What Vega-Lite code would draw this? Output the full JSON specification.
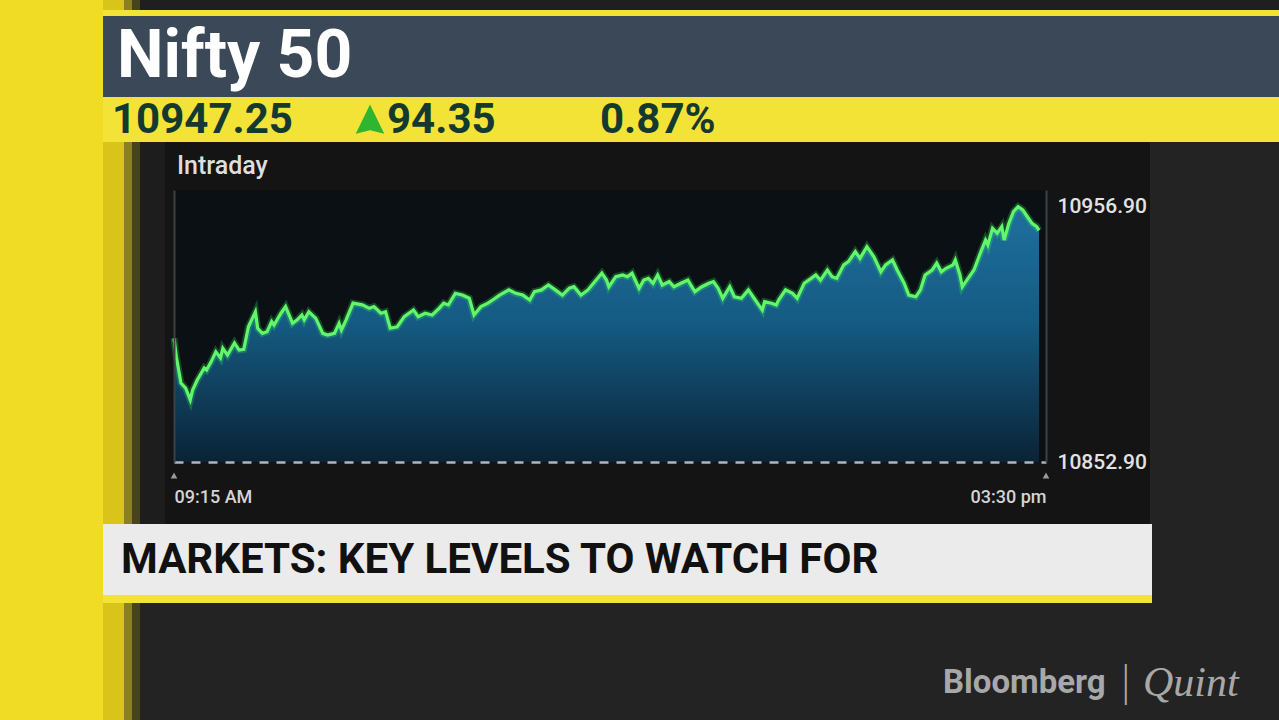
{
  "$schema": "https://vega.github.io/schema/vega-lite/v6.json",
  "background": "#141414",
  "padding": 0,
  "spacing": 0,
  "config": {
    "view": {"stroke": null},
    "concat": {"spacing": 0},
    "font": "Roboto"
  },
  "vconcat": [
    {"hconcat": [
      {"width": 103, "height": 10, "view": {"fill": "#f0dc24"}, "data": {"values": []}, "mark": "rect"},
      {"width": 21, "height": 10, "view": {"fill": "#d9c51a"}, "data": {"values": []}, "mark": "rect"},
      {"width": 8, "height": 10, "view": {"fill": "#8a8021"}, "data": {"values": []}, "mark": "rect"},
      {"width": 8, "height": 10, "view": {"fill": "#46431f"}, "data": {"values": []}, "mark": "rect"},
      {"width": 1139, "height": 10, "view": {"fill": "#1f1f1f"}, "data": {"values": []}, "mark": "rect"}
    ], "spacing": 0, "bounds": "flush"},
    {"hconcat": [
      {"width": 103, "height": 6, "view": {"fill": "#f0dc24"}, "data": {"values": []}, "mark": "rect"},
      {"width": 1176, "height": 6, "view": {"fill": "#f3e337"}, "data": {"values": []}, "mark": "rect"}
    ], "spacing": 0, "bounds": "flush"},
    {"hconcat": [
      {"width": 103, "height": 81, "view": {"fill": "#f0dc24"}, "data": {"values": []}, "mark": "rect"},
      {"width": 14, "height": 81, "view": {"fill": "#3a4858"}, "data": {"values": []}, "mark": "rect"},
      {"width": 1162, "height": 81, "view": {"fill": "#3a4858"},
        "data": {"values": [{"label": "Nifty 50"}]},
        "mark": {"type": "text", "align": "left", "baseline": "middle", "font": "Roboto", "fontSize": 66, "fontWeight": "bold", "color": "#ffffff"},
        "encoding": {
          "x": {"field": "label", "type": "nominal", "axis": null, "scale": {"type": "band", "paddingInner": 0, "paddingOuter": 0}, "bandPosition": 0},
          "text": {"field": "label"}
        }}
    ], "spacing": 0, "bounds": "flush"},
    {"hconcat": [
      {"width": 103, "height": 45, "view": {"fill": "#f0dc24"}, "data": {"values": []}, "mark": "rect"},
      {"width": 9, "height": 45, "view": {"fill": "#f3e337"}, "data": {"values": []}, "mark": "rect"},
      {"width": 241, "height": 45, "view": {"fill": "#f3e337"},
        "data": {"values": [{"label": "10947.25"}]},
        "mark": {"type": "text", "align": "left", "baseline": "middle", "font": "Roboto", "fontSize": 42, "fontWeight": "bold", "color": "#143a30"},
        "encoding": {
          "x": {"field": "label", "type": "nominal", "axis": null, "scale": {"type": "band", "paddingInner": 0, "paddingOuter": 0}, "bandPosition": 0},
          "text": {"field": "label"}
        }},
      {"width": 34, "height": 45, "view": {"fill": "#f3e337"},
        "data": {"values": [{"dir": "up"}]},
        "mark": {"type": "point", "filled": true, "shape": "M0,-1L0.95,0.95L0,0.72L-0.95,0.95Z", "size": 900, "color": "#2fb52f", "opacity": 1}},
      {"width": 213, "height": 45, "view": {"fill": "#f3e337"},
        "data": {"values": [{"label": "94.35"}]},
        "mark": {"type": "text", "align": "left", "baseline": "middle", "font": "Roboto", "fontSize": 42, "fontWeight": "bold", "color": "#143a30"},
        "encoding": {
          "x": {"field": "label", "type": "nominal", "axis": null, "scale": {"type": "band", "paddingInner": 0, "paddingOuter": 0}, "bandPosition": 0},
          "text": {"field": "label"}
        }},
      {"width": 679, "height": 45, "view": {"fill": "#f3e337"},
        "data": {"values": [{"label": "0.87%"}]},
        "mark": {"type": "text", "align": "left", "baseline": "middle", "font": "Roboto", "fontSize": 42, "fontWeight": "bold", "color": "#143a30"},
        "encoding": {
          "x": {"field": "label", "type": "nominal", "axis": null, "scale": {"type": "band", "paddingInner": 0, "paddingOuter": 0}, "bandPosition": 0},
          "text": {"field": "label"}
        }}
    ], "spacing": 0, "bounds": "flush"},
    {"hconcat": [
      {"width": 103, "height": 48, "view": {"fill": "#f0dc24"}, "data": {"values": []}, "mark": "rect"},
      {"width": 21, "height": 48, "view": {"fill": "#d9c51a"}, "data": {"values": []}, "mark": "rect"},
      {"width": 8, "height": 48, "view": {"fill": "#8a8021"}, "data": {"values": []}, "mark": "rect"},
      {"width": 8, "height": 48, "view": {"fill": "#46431f"}, "data": {"values": []}, "mark": "rect"},
      {"width": 25, "height": 48, "view": {"fill": "#1d1d1d"}, "data": {"values": []}, "mark": "rect"},
      {"width": 12, "height": 48, "data": {"values": []}, "mark": "rect"},
      {"width": 973, "height": 48,
        "data": {"values": [{"label": "Intraday"}]},
        "mark": {"type": "text", "align": "left", "baseline": "middle", "font": "Roboto", "fontSize": 25, "fontWeight": 500, "color": "#dedede"},
        "encoding": {
          "x": {"field": "label", "type": "nominal", "axis": null, "scale": {"type": "band", "paddingInner": 0, "paddingOuter": 0}, "bandPosition": 0},
          "text": {"field": "label"}
        }},
      {"width": 129, "height": 48, "view": {"fill": "#232323"}, "data": {"values": []}, "mark": "rect"}
    ], "spacing": 0, "bounds": "flush"},
    {"hconcat": [
      {"width": 103, "height": 334, "view": {"fill": "#f0dc24"}, "data": {"values": []}, "mark": "rect"},
      {"width": 21, "height": 334, "view": {"fill": "#d9c51a"}, "data": {"values": []}, "mark": "rect"},
      {"width": 8, "height": 334, "view": {"fill": "#8a8021"}, "data": {"values": []}, "mark": "rect"},
      {"width": 8, "height": 334, "view": {"fill": "#46431f"}, "data": {"values": []}, "mark": "rect"},
      {"width": 25, "height": 334, "view": {"fill": "#1d1d1d"}, "data": {"values": []}, "mark": "rect"},
      {"width": 9, "height": 334, "data": {"values": []}, "mark": "rect"},
      {
        "width": 872,
        "height": 272,
        "view": {"fill": "#0b1014"},
        "data": {
          "format": {"parse": {"t": "date:'%H:%M'"}},
          "values": [
            {"t": "09:15", "v": 10903.3}, {"t": "09:16", "v": 10895.8}, {"t": "09:18", "v": 10885.1},
            {"t": "09:20", "v": 10883.0}, {"t": "09:22", "v": 10878.2}, {"t": "09:23", "v": 10882.2},
            {"t": "09:25", "v": 10886.3}, {"t": "09:28", "v": 10891.2}, {"t": "09:29", "v": 10890.4},
            {"t": "09:31", "v": 10893.8}, {"t": "09:33", "v": 10897.8}, {"t": "09:35", "v": 10895.3},
            {"t": "09:36", "v": 10899.2}, {"t": "09:38", "v": 10896.5}, {"t": "09:41", "v": 10901.4},
            {"t": "09:43", "v": 10898.5}, {"t": "09:45", "v": 10898.8}, {"t": "09:47", "v": 10908.0},
            {"t": "09:50", "v": 10914.1}, {"t": "09:51", "v": 10907.4}, {"t": "09:53", "v": 10905.3},
            {"t": "09:55", "v": 10906.0}, {"t": "09:57", "v": 10910.1}, {"t": "09:58", "v": 10908.7},
            {"t": "10:01", "v": 10913.5}, {"t": "10:03", "v": 10916.2}, {"t": "10:06", "v": 10909.4},
            {"t": "10:08", "v": 10910.8}, {"t": "10:10", "v": 10912.8}, {"t": "10:11", "v": 10910.8},
            {"t": "10:13", "v": 10914.1}, {"t": "10:16", "v": 10911.4}, {"t": "10:19", "v": 10905.3},
            {"t": "10:21", "v": 10904.6}, {"t": "10:24", "v": 10905.3}, {"t": "10:26", "v": 10909.4},
            {"t": "10:27", "v": 10906.7}, {"t": "10:29", "v": 10910.8}, {"t": "10:32", "v": 10917.6},
            {"t": "10:36", "v": 10916.9}, {"t": "10:39", "v": 10915.5}, {"t": "10:41", "v": 10916.2},
            {"t": "10:44", "v": 10913.5}, {"t": "10:46", "v": 10914.1}, {"t": "10:48", "v": 10907.4},
            {"t": "10:51", "v": 10908.0}, {"t": "10:54", "v": 10912.1}, {"t": "10:58", "v": 10914.8},
            {"t": "11:00", "v": 10912.1}, {"t": "11:03", "v": 10913.5}, {"t": "11:06", "v": 10912.8},
            {"t": "11:09", "v": 10915.5}, {"t": "11:11", "v": 10917.6}, {"t": "11:13", "v": 10916.9},
            {"t": "11:16", "v": 10921.6}, {"t": "11:19", "v": 10920.9}, {"t": "11:22", "v": 10919.6},
            {"t": "11:24", "v": 10912.8}, {"t": "11:27", "v": 10916.2}, {"t": "11:30", "v": 10917.6},
            {"t": "11:32", "v": 10918.9}, {"t": "11:35", "v": 10920.9}, {"t": "11:39", "v": 10923.0},
            {"t": "11:42", "v": 10921.6}, {"t": "11:45", "v": 10920.9}, {"t": "11:48", "v": 10918.9},
            {"t": "11:50", "v": 10922.3}, {"t": "11:53", "v": 10923.0}, {"t": "11:56", "v": 10925.0},
            {"t": "11:59", "v": 10923.0}, {"t": "12:02", "v": 10920.9}, {"t": "12:05", "v": 10923.7},
            {"t": "12:07", "v": 10924.3}, {"t": "12:10", "v": 10920.9}, {"t": "12:13", "v": 10923.0},
            {"t": "12:16", "v": 10926.4}, {"t": "12:19", "v": 10929.8}, {"t": "12:21", "v": 10927.0},
            {"t": "12:22", "v": 10924.3}, {"t": "12:25", "v": 10928.4}, {"t": "12:28", "v": 10929.1},
            {"t": "12:30", "v": 10928.4}, {"t": "12:32", "v": 10929.8}, {"t": "12:35", "v": 10923.7},
            {"t": "12:37", "v": 10927.0}, {"t": "12:39", "v": 10927.7}, {"t": "12:41", "v": 10925.7},
            {"t": "12:43", "v": 10929.1}, {"t": "12:45", "v": 10925.0}, {"t": "12:48", "v": 10926.4},
            {"t": "12:50", "v": 10924.3}, {"t": "12:53", "v": 10925.7}, {"t": "12:56", "v": 10927.0},
            {"t": "12:59", "v": 10922.3}, {"t": "13:02", "v": 10924.3}, {"t": "13:05", "v": 10925.7},
            {"t": "13:07", "v": 10926.4}, {"t": "13:09", "v": 10923.7}, {"t": "13:11", "v": 10919.6},
            {"t": "13:14", "v": 10924.3}, {"t": "13:16", "v": 10920.2}, {"t": "13:19", "v": 10919.6},
            {"t": "13:22", "v": 10923.0}, {"t": "13:25", "v": 10918.9}, {"t": "13:28", "v": 10914.8},
            {"t": "13:29", "v": 10918.2}, {"t": "13:32", "v": 10917.6}, {"t": "13:34", "v": 10916.9},
            {"t": "13:35", "v": 10918.9}, {"t": "13:38", "v": 10923.0}, {"t": "13:41", "v": 10921.6},
            {"t": "13:43", "v": 10919.6}, {"t": "13:46", "v": 10925.7}, {"t": "13:49", "v": 10927.7},
            {"t": "13:51", "v": 10929.1}, {"t": "13:53", "v": 10927.0}, {"t": "13:56", "v": 10931.1},
            {"t": "13:58", "v": 10928.4}, {"t": "14:00", "v": 10927.7}, {"t": "14:03", "v": 10933.2},
            {"t": "14:05", "v": 10934.5}, {"t": "14:08", "v": 10938.6}, {"t": "14:10", "v": 10935.9},
            {"t": "14:13", "v": 10940.6}, {"t": "14:16", "v": 10936.5}, {"t": "14:19", "v": 10930.4},
            {"t": "14:21", "v": 10933.2}, {"t": "14:24", "v": 10935.2}, {"t": "14:26", "v": 10931.1},
            {"t": "14:29", "v": 10925.7}, {"t": "14:31", "v": 10920.9}, {"t": "14:34", "v": 10920.2},
            {"t": "14:36", "v": 10923.0}, {"t": "14:38", "v": 10929.1}, {"t": "14:41", "v": 10931.1},
            {"t": "14:43", "v": 10933.9}, {"t": "14:45", "v": 10930.4}, {"t": "14:47", "v": 10931.8},
            {"t": "14:50", "v": 10933.2}, {"t": "14:51", "v": 10935.2}, {"t": "14:53", "v": 10929.1},
            {"t": "14:54", "v": 10924.3}, {"t": "14:57", "v": 10928.4}, {"t": "14:59", "v": 10931.1},
            {"t": "15:02", "v": 10938.6}, {"t": "15:04", "v": 10943.3}, {"t": "15:05", "v": 10941.3},
            {"t": "15:07", "v": 10948.1}, {"t": "15:09", "v": 10946.1}, {"t": "15:11", "v": 10948.8},
            {"t": "15:12", "v": 10943.3}, {"t": "15:14", "v": 10950.1}, {"t": "15:16", "v": 10954.9},
            {"t": "15:18", "v": 10956.9}, {"t": "15:20", "v": 10955.6}, {"t": "15:22", "v": 10952.8},
            {"t": "15:24", "v": 10950.1}, {"t": "15:26", "v": 10948.8}, {"t": "15:27", "v": 10947.25}
          ]
        },
        "encoding": {
          "x": {
            "field": "t",
            "type": "temporal",
            "scale": {"domain": [
              {"year": 1900, "month": 1, "date": 1, "hours": 9, "minutes": 15},
              {"year": 1900, "month": 1, "date": 1, "hours": 15, "minutes": 30}
            ]},
            "axis": {
              "title": null,
              "grid": false,
              "ticks": false,
              "values": [
                {"year": 1900, "month": 1, "date": 1, "hours": 9, "minutes": 15},
                {"year": 1900, "month": 1, "date": 1, "hours": 15, "minutes": 30}
              ],
              "labelExpr": "hours(datum.value) < 12 ? timeFormat(datum.value, '%I:%M %p') : lower(timeFormat(datum.value, '%I:%M %p'))",
              "labelFlush": true,
              "labelFont": "Roboto",
              "labelFontSize": 18,
              "labelFontWeight": 500,
              "labelColor": "#d4d4d4",
              "labelPadding": 26,
              "domainColor": "#aeb6ba",
              "domainWidth": 2.5,
              "domainDash": [9, 8],
              "zindex": 1
            }
          }
        },
        "layer": [
          {
            "mark": {
              "type": "area",
              "fill": {
                "gradient": "linear",
                "x1": 0, "y1": 0, "x2": 0, "y2": 1,
                "stops": [
                  {"offset": 0, "color": "#1e6f9e"},
                  {"offset": 0.45, "color": "#155b83"},
                  {"offset": 1, "color": "#0a2336"}
                ]
              }
            },
            "encoding": {
              "y": {
                "field": "v",
                "type": "quantitative",
                "scale": {"domain": [10852.9, 10963.7], "zero": false, "nice": false},
                "axis": {"orient": "left", "labels": false, "ticks": false, "grid": false, "title": null, "domainColor": "#3a4147", "domainWidth": 2, "zindex": 1}
              },
              "y2": {"datum": 10852.9}
            }
          },
          {
            "mark": {"type": "line", "color": "#3df05a", "strokeWidth": 7, "opacity": 0.25},
            "encoding": {
              "y": {
                "field": "v",
                "type": "quantitative",
                "scale": {"domain": [10852.9, 10963.7], "zero": false, "nice": false},
                "axis": {
                  "orient": "right",
                  "title": null,
                  "grid": false,
                  "ticks": false,
                  "values": [10852.9, 10956.9],
                  "format": ".2f",
                  "labelFont": "Roboto",
                  "labelFontSize": 21,
                  "labelFontWeight": 500,
                  "labelColor": "#e2e2e2",
                  "labelPadding": 11,
                  "domainColor": "#3a4147",
                  "domainWidth": 2,
                  "zindex": 1
                }
              }
            }
          },
          {
            "mark": {"type": "line", "color": "#62f76a", "strokeWidth": 3.2},
            "encoding": {
              "y": {
                "field": "v",
                "type": "quantitative",
                "scale": {"domain": [10852.9, 10963.7], "zero": false, "nice": false},
                "axis": null
              }
            }
          },
          {
            "data": {
              "format": {"parse": {"t": "date:'%H:%M'"}},
              "values": [{"t": "09:15"}, {"t": "15:30"}]
            },
            "mark": {"type": "point", "filled": true, "shape": "triangle-up", "size": 45, "color": "#9a9a9a", "opacity": 1},
            "encoding": {
              "y": {
                "datum": 10847.4,
                "type": "quantitative",
                "scale": {"domain": [10852.9, 10963.7], "zero": false, "nice": false},
                "axis": null
              }
            }
          }
        ],
        "resolve": {"axis": {"y": "independent"}}
      },
      {"width": 104, "height": 334, "data": {"values": []}, "mark": "rect"},
      {"width": 129, "height": 334, "view": {"fill": "#232323"}, "data": {"values": []}, "mark": "rect"}
    ], "spacing": 0, "bounds": "flush"},
    {"hconcat": [
      {"width": 103, "height": 71, "view": {"fill": "#f0dc24"}, "data": {"values": []}, "mark": "rect"},
      {"width": 18, "height": 71, "view": {"fill": "#ebebeb"}, "data": {"values": []}, "mark": "rect"},
      {"width": 1031, "height": 71, "view": {"fill": "#ebebeb"},
        "data": {"values": [{"label": "MARKETS: KEY LEVELS TO WATCH FOR"}]},
        "mark": {"type": "text", "align": "left", "baseline": "middle", "font": "Roboto", "fontSize": 42, "fontWeight": "bold", "color": "#111111"},
        "encoding": {
          "x": {"field": "label", "type": "nominal", "axis": null, "scale": {"type": "band", "paddingInner": 0, "paddingOuter": 0}, "bandPosition": 0},
          "text": {"field": "label"}
        }},
      {"width": 127, "height": 71, "view": {"fill": "#232323"}, "data": {"values": []}, "mark": "rect"}
    ], "spacing": 0, "bounds": "flush"},
    {"hconcat": [
      {"width": 103, "height": 8, "view": {"fill": "#f0dc24"}, "data": {"values": []}, "mark": "rect"},
      {"width": 1049, "height": 8, "view": {"fill": "#f3e337"}, "data": {"values": []}, "mark": "rect"},
      {"width": 127, "height": 8, "view": {"fill": "#232323"}, "data": {"values": []}, "mark": "rect"}
    ], "spacing": 0, "bounds": "flush"},
    {"hconcat": [
      {"width": 103, "height": 57, "view": {"fill": "#f0dc24"}, "data": {"values": []}, "mark": "rect"},
      {"width": 21, "height": 57, "view": {"fill": "#d9c51a"}, "data": {"values": []}, "mark": "rect"},
      {"width": 8, "height": 57, "view": {"fill": "#8a8021"}, "data": {"values": []}, "mark": "rect"},
      {"width": 8, "height": 57, "view": {"fill": "#46431f"}, "data": {"values": []}, "mark": "rect"},
      {"width": 1139, "height": 57, "view": {"fill": "#232323"}, "data": {"values": []}, "mark": "rect"}
    ], "spacing": 0, "bounds": "flush"},
    {"hconcat": [
      {"width": 103, "height": 46, "view": {"fill": "#f0dc24"}, "data": {"values": []}, "mark": "rect"},
      {"width": 21, "height": 46, "view": {"fill": "#d9c51a"}, "data": {"values": []}, "mark": "rect"},
      {"width": 8, "height": 46, "view": {"fill": "#8a8021"}, "data": {"values": []}, "mark": "rect"},
      {"width": 8, "height": 46, "view": {"fill": "#46431f"}, "data": {"values": []}, "mark": "rect"},
      {"width": 803, "height": 46, "view": {"fill": "#232323"}, "data": {"values": []}, "mark": "rect"},
      {"width": 176, "height": 46, "view": {"fill": "#232323"},
        "data": {"values": [{"label": "Bloomberg"}]},
        "mark": {"type": "text", "align": "left", "baseline": "middle", "font": "Roboto", "fontSize": 33, "fontWeight": "bold", "color": "#a8a8a8"},
        "encoding": {
          "x": {"field": "label", "type": "nominal", "axis": null, "scale": {"type": "band", "paddingInner": 0, "paddingOuter": 0}, "bandPosition": 0},
          "text": {"field": "label"}
        }},
      {"width": 24, "height": 46, "view": {"fill": "#232323"},
        "data": {"values": [{"label": "|"}]},
        "mark": {"type": "text", "align": "left", "baseline": "middle", "font": "DejaVu Sans", "fontSize": 40, "fontWeight": 300, "color": "#a8a8a8"},
        "encoding": {
          "x": {"field": "label", "type": "nominal", "axis": null, "scale": {"type": "band", "paddingInner": 0, "paddingOuter": 0}, "bandPosition": 0},
          "text": {"field": "label"}
        }},
      {"width": 136, "height": 46, "view": {"fill": "#232323"},
        "data": {"values": [{"label": "Quint"}]},
        "mark": {"type": "text", "align": "left", "baseline": "middle", "font": "Liberation Serif", "fontSize": 42, "fontStyle": "italic", "color": "#a8a8a8"},
        "encoding": {
          "x": {"field": "label", "type": "nominal", "axis": null, "scale": {"type": "band", "paddingInner": 0, "paddingOuter": 0}, "bandPosition": 0},
          "text": {"field": "label"}
        }}
    ], "spacing": 0, "bounds": "flush"},
    {"hconcat": [
      {"width": 103, "height": 14, "view": {"fill": "#f0dc24"}, "data": {"values": []}, "mark": "rect"},
      {"width": 21, "height": 14, "view": {"fill": "#d9c51a"}, "data": {"values": []}, "mark": "rect"},
      {"width": 8, "height": 14, "view": {"fill": "#8a8021"}, "data": {"values": []}, "mark": "rect"},
      {"width": 8, "height": 14, "view": {"fill": "#46431f"}, "data": {"values": []}, "mark": "rect"},
      {"width": 1139, "height": 14, "view": {"fill": "#232323"}, "data": {"values": []}, "mark": "rect"}
    ], "spacing": 0, "bounds": "flush"}
  ]
}
